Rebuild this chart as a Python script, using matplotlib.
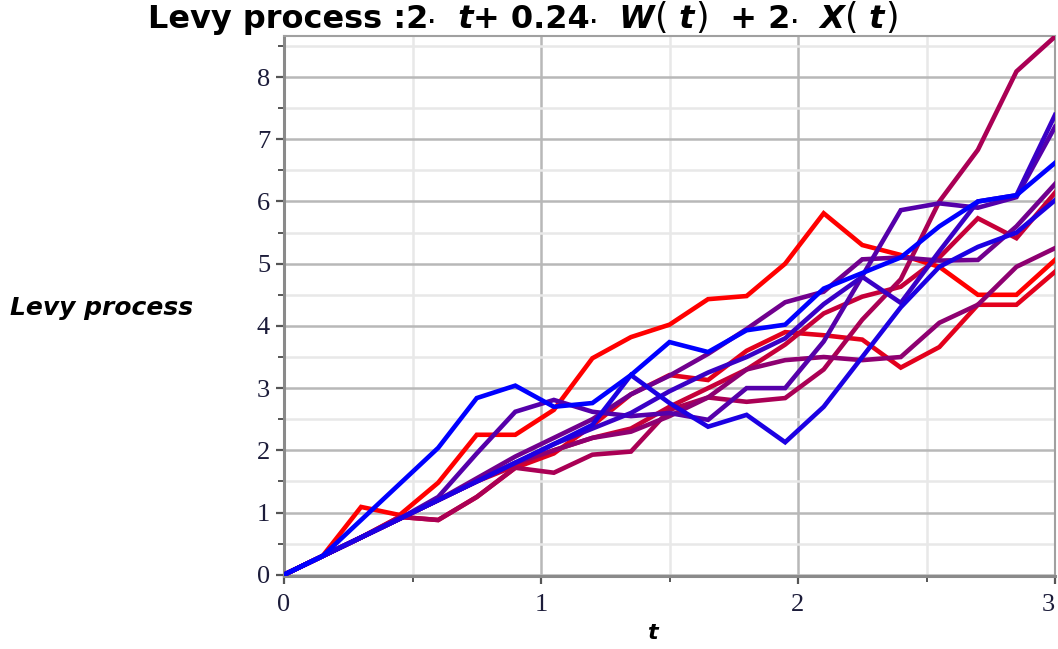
import numpy as np
import matplotlib
matplotlib.use("Agg")
import matplotlib.pyplot as plt
from matplotlib.ticker import MultipleLocator

# sample times: 20 steps of 0.15 on [0, 3]
t = np.linspace(0, 3, 21)

# ten simulated paths of 2*t + 0.24*W(t) + 2*X(t), red -> blue
path0 = [0, .30, 1.09, .96, 1.48, 2.25, 2.25, 2.65, 3.48, 3.82, 4.02, 4.43, 4.48, 5.00, 5.81, 5.30, 5.14, 4.95, 4.50, 4.50, 5.06]
path1 = [0, .30, .60, .93, .88, 1.25, 1.72, 1.95, 2.40, 2.90, 3.21, 3.13, 3.60, 3.90, 3.85, 3.78, 3.33, 3.66, 4.34, 4.34, 4.87]
path2 = [0, .30, .60, .90, 1.20, 1.50, 1.75, 2.00, 2.20, 2.35, 2.70, 3.00, 3.30, 3.70, 4.20, 4.47, 4.63, 5.10, 5.73, 5.41, 6.14]
path3 = [0, .30, .60, .93, .88, 1.25, 1.72, 1.64, 1.93, 1.98, 2.65, 2.85, 2.78, 2.84, 3.30, 4.10, 4.75, 6.00, 6.83, 8.09, 8.65]
path4 = [0, .30, .60, .90, 1.20, 1.50, 1.80, 2.00, 2.20, 2.30, 2.55, 2.85, 3.30, 3.45, 3.50, 3.45, 3.50, 4.05, 4.34, 4.95, 5.25]
path5 = [0, .30, .60, .90, 1.20, 1.55, 1.90, 2.20, 2.50, 2.90, 3.20, 3.55, 3.95, 4.38, 4.55, 5.07, 5.10, 5.05, 5.06, 5.60, 6.28]
path6 = [0, .30, .60, .90, 1.25, 1.95, 2.62, 2.81, 2.62, 2.55, 2.60, 2.49, 3.00, 3.00, 3.75, 4.80, 5.86, 5.97, 5.90, 6.07, 7.20]
path7 = [0, .30, .60, .90, 1.20, 1.50, 1.80, 2.10, 2.35, 2.60, 2.95, 3.25, 3.50, 3.80, 4.35, 4.79, 4.37, 5.20, 6.00, 6.10, 7.39]
path8 = [0, .30, .60, .90, 1.20, 1.50, 1.80, 2.10, 2.41, 3.21, 2.76, 2.38, 2.57, 2.13, 2.70, 3.50, 4.30, 4.95, 5.27, 5.50, 6.02]
path9 = [0, .30, .88, 1.46, 2.04, 2.84, 3.04, 2.70, 2.76, 3.21, 3.74, 3.58, 3.93, 4.02, 4.60, 4.85, 5.10, 5.60, 6.00, 6.10, 6.62]
paths = [path0, path1, path2, path3, path4, path5, path6, path7, path8, path9]

x_ticks = [0, 1, 2, 3]

W, H = 1058, 649
fig = plt.figure(figsize=(W / 100, H / 100), dpi=100)
ax = fig.add_axes([284 / W, 1 - 576 / H, (1055 - 284) / W, (576 - 36) / H])

for i, p in enumerate(paths):
    f = i / (len(paths) - 1)
    ax.plot(t, p, color=(1 - f, 0, f), lw=3.3, solid_joinstyle="miter", zorder=3)

ax.set_xlim(0, 3)
ax.set_ylim(-0.02, 8.66)
ax.set_xticks(x_ticks)
ax.xaxis.set_minor_locator(MultipleLocator(0.5))
ax.yaxis.set_major_locator(MultipleLocator(1))
ax.yaxis.set_minor_locator(MultipleLocator(0.5))
ax.grid(which="major", color="#b8b8b8", lw=1.8, zorder=0)
ax.grid(which="minor", color="#e8e8e8", lw=1.8, zorder=0)
ax.set_axisbelow(True)

for side in ["left", "bottom"]:
    ax.spines[side].set_color("#8a8a8a")
    ax.spines[side].set_linewidth(2.2)
for side in ["top", "right"]:
    ax.spines[side].set_color("#a0a0a0")
    ax.spines[side].set_linewidth(1.5)

ax.tick_params(which="major", length=6, width=1.6, color="#555555", direction="out")
ax.tick_params(which="minor", length=4, width=1.4, color="#555555", direction="out")
ax.tick_params(axis="x", labelsize=19, labelcolor="#1c1c3a", pad=7)
ax.tick_params(axis="y", labelsize=19, labelcolor="#1c1c3a", pad=4)
fig.canvas.draw()
for lab in ax.get_xticklabels() + ax.get_yticklabels():
    lab.set_family("Liberation Serif")
# keep the "3" at the right edge inside the figure
ax.xaxis.get_major_ticks()[-1].label1.set_horizontalalignment("right")

fig.text(652 / W, 1 - 633 / H, "t", fontsize=16, fontweight="bold", style="italic",
         family="DejaVu Sans", va="center", ha="center")
fig.text(10 / W, 1 - 308 / H, "Levy process", fontsize=18, fontweight="bold", style="italic",
         family="DejaVu Sans", va="center", ha="left")

# title is assembled from pieces so that t, W and X can be italic
pieces = [("Levy process :2", "normal", 23), ("\u00b7", "normal", 14), ("  t", "italic", 23),
          ("+ 0.24", "normal", 23), ("\u00b7", "normal", 14), ("  W", "italic", 23),
          ("(", "light", 25), (" t", "italic", 23), (")", "light", 25), ("  + 2", "normal", 23),
          ("\u00b7", "normal", 14), ("  X", "italic", 23), ("(", "light", 25), (" t", "italic", 23),
          (")", "light", 25)]
renderer = fig.canvas.get_renderer()
x = 148
y = 1 - 28 / H
for s, kind, size in pieces:
    kw = dict(fontsize=size, family="DejaVu Sans", va="baseline", ha="left")
    if kind == "italic":
        kw.update(fontweight="bold", style="italic")
    elif kind == "light":
        kw.update(fontweight="normal")
    else:
        kw.update(fontweight="bold")
    txt = fig.text(x / W, y, s, **kw)
    bb = txt.get_window_extent(renderer)
    x += bb.width

fig.savefig("out.png", dpi=100)
